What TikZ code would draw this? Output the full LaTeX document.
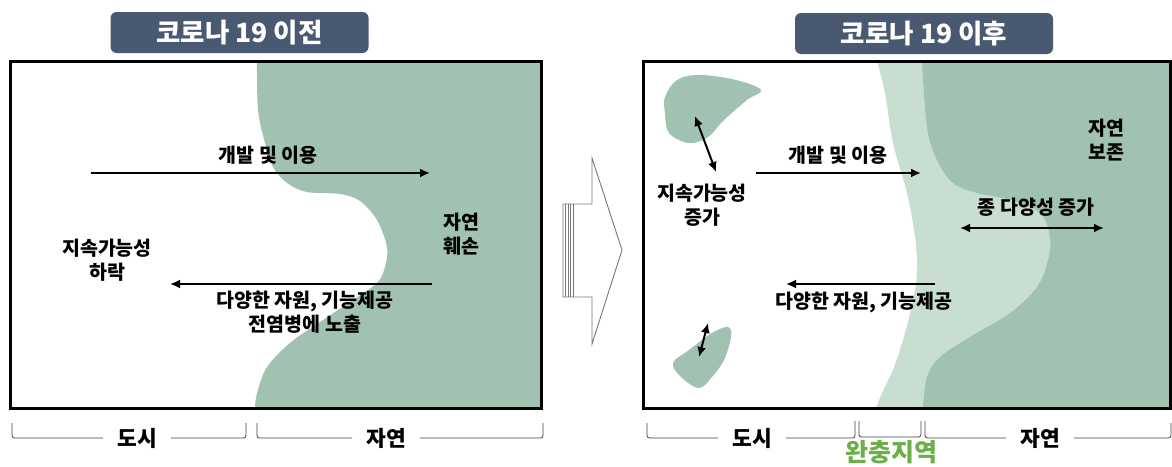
\documentclass[tikz,border=0pt]{standalone}
\usepackage{fontspec}
\setmainfont{Noto Sans CJK KR}
\usetikzlibrary{arrows.meta}
\definecolor{titlebg}{RGB}{73,89,114}
\definecolor{dgreen}{RGB}{161,194,176}
\definecolor{lgreen}{RGB}{200,222,209}
\definecolor{bufgreen}{RGB}{108,175,72}
\definecolor{arrgray}{RGB}{120,120,120}
\begin{document}
\begin{tikzpicture}[x=1pt,y=-1pt,
  titlebox/.style={fill=titlebg, rounded corners=6pt, text=white, font=\fontsize{26.5}{28}\selectfont\bfseries, minimum width=258pt, minimum height=41pt, inner sep=0pt},
  lbl/.style={font=\fontsize{19.5}{24}\selectfont\bfseries, align=center, inner sep=0pt},
  brklbl/.style={font=\fontsize{21.5}{23}\selectfont\bfseries, inner xsep=14pt, inner ysep=0pt},
  frame/.style={line width=3pt, draw=black},
  arr/.style={line width=2pt, -{Latex[length=10pt,width=9pt]}},
  darr/.style={line width=2pt, {Latex[length=10pt,width=9pt]}-{Latex[length=10pt,width=9pt]}},
  brk/.style={line width=0.8pt, draw=black!75, rounded corners=2.5pt},
  bigarrow/.style={draw=arrgray, line width=0.9pt, fill=white}
]
\useasboundingbox (0,0) rectangle (1172,466);

% ---------- left panel ----------
\node[titlebox] (t1) at (239.5,32.5) {코로나 19 이전};
\fill[dgreen] plot[smooth, tension=0.55] coordinates {(257,61) (258,110) (265,143) (273,167) (287,183) (307,192) (340,194) (360,201) (377,220) (387,247) (385,267) (377,283) (353,300) (323,320) (290,343) (267,367) (257,393) (255,408)} -- (541,408) -- (541,61) -- cycle;
\draw[frame] (10,61) rectangle (541,408);

\coordinate (a1s) at (91,173);
\coordinate (a1e) at (430,173);
\draw[arr] (a1s) -- (a1e);
\node[lbl] (l1) at (268,155) {개발 및 이용};
\coordinate (a2s) at (432,284);
\coordinate (a2e) at (170,284);
\draw[arr] (a2s) -- (a2e);
\node[lbl] (l2) at (305,312.5) {다양한 자원, 기능제공\\전염병에 노출};
\node[lbl] (l3) at (461,234.5) {자연\\훼손};
\node[lbl] (l4) at (107,260) {지속가능성\\하락};

\node[brklbl] (b1) at (137,438) {도시};
\draw[brk] (12,423) |- (b1.west);
\draw[brk] (b1.east) -| (246,423);
\node[brklbl] (b2) at (386,438) {자연};
\draw[brk] (257,423) |- (b2.west);
\draw[brk] (b2.east) -| (543,423);

% ---------- big arrow ----------
\draw[bigarrow] (563,204) -- (592,204) -- (592,158) -- (622,250) -- (592,344) -- (592,297) -- (563,297) -- cycle;
\foreach \xx in {565.5,568,570.5,573} \draw[arrgray, line width=0.7pt] (\xx,204) -- (\xx,297);

% ---------- right panel ----------
\node[titlebox] (t2) at (924,33.5) {코로나 19 이후};
\fill[lgreen] plot[smooth, tension=0.6] coordinates {(877,61) (885,93) (893,143) (907,193) (915,237) (917,273) (913,300) (905,333) (894,367) (882,393) (876,408)} -- (1170,408) -- (1170,61) -- cycle;
\fill[dgreen] plot[smooth, tension=0.6] coordinates {(922,61) (927,127) (937,160) (953,183) (977,193) (1010,200) (1040,213) (1050,237) (1048,260) (1037,287) (1010,313) (970,337) (940,357) (927,377) (923,408)} -- (1170,408) -- (1170,61) -- cycle;
\fill[dgreen] plot[smooth cycle, tension=0.6] coordinates {(665,97) (677,80) (700,75) (736,80) (761,90) (747,100) (724,120) (708,137) (689,143) (669,133) (665,113)};
\fill[dgreen] plot[smooth cycle, tension=0.6] coordinates {(673,363) (689,350) (712,333) (728,327) (731,337) (724,360) (712,377) (699,388) (681,377)};
\draw[frame] (643,61) rectangle (1170,408);

\coordinate (c1s) at (695,116);
\coordinate (c1e) at (716,172);
\draw[darr] (c1s) -- (c1e);
\coordinate (c2s) at (708,323);
\coordinate (c2e) at (699,357);
\draw[darr] (c2s) -- (c2e);
\coordinate (c3s) at (756,173);
\coordinate (c3e) at (921,173);
\draw[arr] (c3s) -- (c3e);
\node[lbl] (r1) at (838,155) {개발 및 이용};
\coordinate (c4s) at (960,228);
\coordinate (c4e) at (1104,228);
\draw[darr] (c4s) -- (c4e);
\node[lbl] (r2) at (1036,207) {종 다양성 증가};
\coordinate (c5s) at (935,284);
\coordinate (c5e) at (786,284);
\draw[arr] (c5s) -- (c5e);
\node[lbl] (r3) at (864,302) {다양한 자원, 기능제공};
\node[lbl] (r4) at (702,205) {지속가능성\\증가};
\node[lbl] (r5) at (1106,140) {자연\\보존};

\node[brklbl] (b3) at (752,438) {도시};
\draw[brk] (647,423) |- (b3.west);
\draw[brk] (b3.east) -| (855,421);
\coordinate (m1) at (859,421);
\coordinate (m2) at (921,421);
\draw[brk] (m1) |- (890,437) -| (m2);
\node[brklbl] (b4) at (1040,438) {자연};
\draw[brk] (925,421) |- (b4.west);
\draw[brk] (b4.east) -| (1171,423);
\node[font=\fontsize{25}{27}\selectfont\bfseries, text=bufgreen, inner sep=0pt] (b5) at (891,452) {완충지역};
\end{tikzpicture}
\end{document}
